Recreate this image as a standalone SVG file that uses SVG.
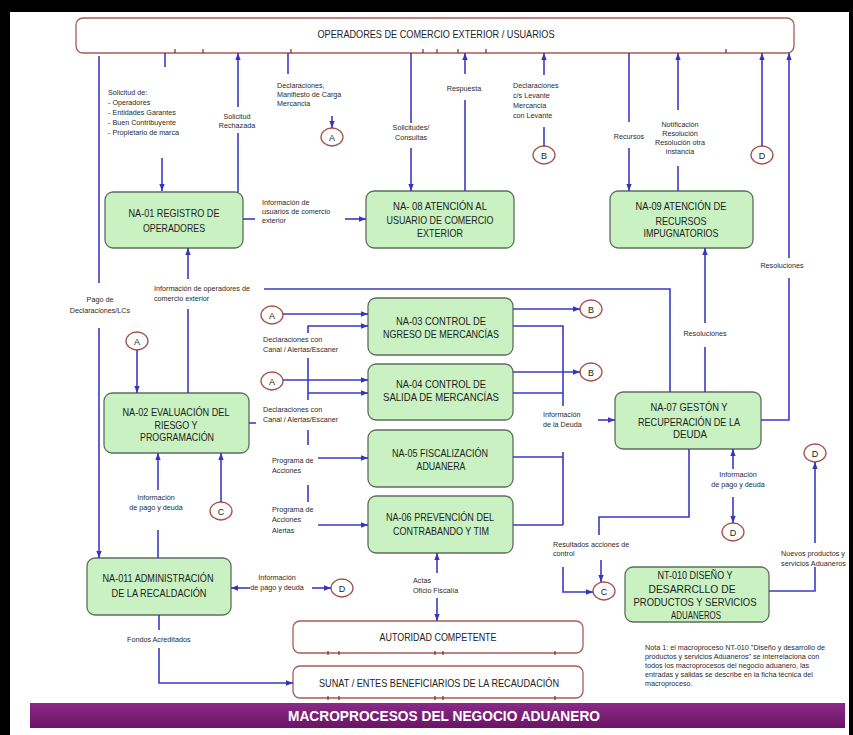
<svg xmlns="http://www.w3.org/2000/svg" width="853" height="735" viewBox="0 0 853 735">
<defs>
<marker id="ah" viewBox="0 0 10 10" refX="10" refY="5" markerWidth="7" markerHeight="7" orient="auto" markerUnits="userSpaceOnUse">
<path d="M0,1.2 L10,5 L0,8.8 z" fill="#3434c0"/>
</marker>
<linearGradient id="band" x1="0" y1="0" x2="0" y2="1">
<stop offset="0" stop-color="#8a2a88"/>
<stop offset="1" stop-color="#6a1466"/>
</linearGradient>
</defs>
<style>
.ln{fill:none;stroke:#3a3ac6;stroke-width:1.6}
.arr{marker-end:url(#ah)}
.nd rect{fill:#c9f1c1;stroke:#5e6e5e;stroke-width:1.3}
.nt{font-family:"Liberation Sans",Arial,sans-serif;font-size:11.5px;fill:#1e1e1e;text-anchor:middle}
.lb{font-family:"Liberation Sans",Arial,sans-serif;font-size:7.2px;fill:#2a2a2a}
.c{text-anchor:middle}
.ext rect{fill:#fff;stroke:#a65c58;stroke-width:1.3}
.et{font-family:"Liberation Sans",Arial,sans-serif;font-size:10.5px;fill:#222;text-anchor:middle}
.cir ellipse{fill:#fff;stroke:#a3544c;stroke-width:1.3}
.cir text{font-family:"Liberation Sans",Arial,sans-serif;font-size:9px;text-anchor:middle;fill:#222}
.tk{stroke:#7a2a22;stroke-width:1.2}
</style>
<rect width="853" height="735" fill="#fff"/>
<!-- frame -->
<rect x="0" y="0" width="853" height="12" fill="#000"/>
<rect x="0" y="0" width="10" height="735" fill="#000"/>
<rect x="849" y="0" width="4" height="735" fill="#000"/>

<!-- external entities -->
<g id="operadores" class="ext">
<rect x="76" y="18" width="718" height="35" rx="7"/>
<text class="et" x="436" y="38" textLength="237" lengthAdjust="spacingAndGlyphs">OPERADORES DE COMERCIO  EXTERIOR / USUARIOS</text>
</g>
<g id="autoridad" class="ext">
<rect x="293" y="621" width="290" height="32" rx="7"/>
<text class="et" x="438" y="641" textLength="117" lengthAdjust="spacingAndGlyphs">AUTORIDAD COMPETENTE</text>
</g>
<g id="sunat" class="ext">
<rect x="293" y="666" width="290" height="32" rx="7"/>
<text class="et" x="439" y="687" textLength="240" lengthAdjust="spacingAndGlyphs">SUNAT / ENTES BENEFICIARIOS DE LA RECAUDACIÓN</text>
</g>
<g id="ticks">
<path class="tk" d="M175,49V53M203,49V53M291,49V53M423,49V53M437,49V53M458,49V53M486,49V53M726,49V53"/>
<path class="tk" d="M328,651V655M339,651V655M435,651V655M443,651V655M555,651V655"/>
<path class="tk" d="M328,696V700M339,696V700M435,696V700M443,696V700M555,696V700"/>
</g>

<!-- process nodes -->
<g id="na01" class="nd"><rect x="105" y="192" width="138" height="56" rx="8"/>
<text class="nt" x="174" y="217" textLength="91" lengthAdjust="spacingAndGlyphs">NA-01 REGISTRO DE</text>
<text class="nt" x="174" y="232" textLength="62" lengthAdjust="spacingAndGlyphs">OPERADORES</text></g>
<g id="na08" class="nd"><rect x="366" y="191" width="148" height="57" rx="8"/>
<text class="nt" x="440" y="210" textLength="94" lengthAdjust="spacingAndGlyphs">NA- 08 ATENCIÓN AL</text>
<text class="nt" x="440" y="224" textLength="107" lengthAdjust="spacingAndGlyphs">USUARIO DE COMERCIO</text>
<text class="nt" x="440" y="237" textLength="46" lengthAdjust="spacingAndGlyphs">EXTERIOR</text></g>
<g id="na09" class="nd"><rect x="610" y="191" width="143" height="57" rx="8"/>
<text class="nt" x="681" y="210" textLength="91" lengthAdjust="spacingAndGlyphs">NA-09 ATENCIÓN DE</text>
<text class="nt" x="681" y="225" textLength="51" lengthAdjust="spacingAndGlyphs">RECURSOS</text>
<text class="nt" x="681" y="237" textLength="75" lengthAdjust="spacingAndGlyphs">IMPUGNATORIOS</text></g>
<g id="na03" class="nd"><rect x="368" y="298" width="145" height="57" rx="8"/>
<text class="nt" x="441" y="325" textLength="90" lengthAdjust="spacingAndGlyphs">NA-03 CONTROL DE</text>
<text class="nt" x="441" y="338" textLength="116" lengthAdjust="spacingAndGlyphs">NGRESO DE MERCANCÍAS</text></g>
<g id="na04" class="nd"><rect x="368" y="364" width="145" height="56" rx="8"/>
<text class="nt" x="441" y="388" textLength="90" lengthAdjust="spacingAndGlyphs">NA-04 CONTROL DE</text>
<text class="nt" x="441" y="401" textLength="116" lengthAdjust="spacingAndGlyphs">SALIDA DE MERCANCÍAS</text></g>
<g id="na05" class="nd"><rect x="368" y="430" width="145" height="57" rx="8"/>
<text class="nt" x="440" y="457" textLength="96" lengthAdjust="spacingAndGlyphs">NA-05 FISCALIZACIÓN</text>
<text class="nt" x="441" y="470" textLength="49" lengthAdjust="spacingAndGlyphs">ADUANERA</text></g>
<g id="na06" class="nd"><rect x="368" y="496" width="145" height="57" rx="8"/>
<text class="nt" x="440" y="521" textLength="108" lengthAdjust="spacingAndGlyphs">NA-06 PREVENCIÓN DEL</text>
<text class="nt" x="441" y="535" textLength="96" lengthAdjust="spacingAndGlyphs">CONTRABANDO Y TIM</text></g>
<g id="na07" class="nd"><rect x="615" y="392" width="146" height="57" rx="8"/>
<text class="nt" x="689" y="411" textLength="77" lengthAdjust="spacingAndGlyphs">NA-07 GESTÓN Y</text>
<text class="nt" x="689" y="426" textLength="102" lengthAdjust="spacingAndGlyphs">RECUPERACIÓN DE LA</text>
<text class="nt" x="690" y="438" textLength="34" lengthAdjust="spacingAndGlyphs">DEUDA</text></g>
<g id="na02" class="nd"><rect x="104" y="393" width="145" height="60" rx="8"/>
<text class="nt" x="176" y="416" textLength="107" lengthAdjust="spacingAndGlyphs">NA-02 EVALUACIÓN DEL</text>
<text class="nt" x="176" y="429" textLength="43" lengthAdjust="spacingAndGlyphs">RIESGO Y</text>
<text class="nt" x="177" y="441" textLength="74" lengthAdjust="spacingAndGlyphs">PROGRAMACIÓN</text></g>
<g id="na011" class="nd"><rect x="87" y="558" width="144" height="57" rx="8"/>
<text class="nt" x="158" y="582" textLength="111" lengthAdjust="spacingAndGlyphs">NA-011 ADMINISTRACIÓN</text>
<text class="nt" x="159" y="597" textLength="95" lengthAdjust="spacingAndGlyphs">DE LA RECALDACIÓN</text></g>
<g id="nt010" class="nd"><rect x="625" y="567" width="144" height="55" rx="8"/>
<text class="nt" x="695" y="579" textLength="75" lengthAdjust="spacingAndGlyphs">NT-010 DISEÑO Y</text>
<text class="nt" x="692" y="593" textLength="87" lengthAdjust="spacingAndGlyphs">DESARRCLLO DE</text>
<text class="nt" x="695" y="606" textLength="123" lengthAdjust="spacingAndGlyphs">PRODUCTOS Y SERVICIOS</text>
<text class="nt" x="696" y="619" textLength="50" lengthAdjust="spacingAndGlyphs">ADUANEROS</text></g>

<!-- off-page connectors -->
<g id="conA1" class="cir"><ellipse cx="332" cy="137" rx="11" ry="9"/><text x="332" y="140.5">A</text></g>
<g id="conB1" class="cir"><ellipse cx="544" cy="155" rx="11" ry="9"/><text x="544" y="158.5">B</text></g>
<g id="conD1" class="cir"><ellipse cx="762" cy="155" rx="11" ry="9"/><text x="762" y="158.5">D</text></g>
<g id="conA2" class="cir"><ellipse cx="137" cy="341" rx="11" ry="9"/><text x="137" y="344.5">A</text></g>
<g id="conA3" class="cir"><ellipse cx="272" cy="315" rx="11" ry="9"/><text x="272" y="318.5">A</text></g>
<g id="conA4" class="cir"><ellipse cx="272" cy="381" rx="11" ry="9"/><text x="272" y="384.5">A</text></g>
<g id="conB2" class="cir"><ellipse cx="591" cy="309" rx="11" ry="9"/><text x="591" y="312.5">B</text></g>
<g id="conB3" class="cir"><ellipse cx="591" cy="372" rx="11" ry="9"/><text x="591" y="375.5">B</text></g>
<g id="conC1" class="cir"><ellipse cx="221" cy="511" rx="11" ry="9"/><text x="221" y="514.5">C</text></g>
<g id="conD2" class="cir"><ellipse cx="342" cy="588" rx="11" ry="9"/><text x="342" y="591.5">D</text></g>
<g id="conC2" class="cir"><ellipse cx="604" cy="591" rx="11" ry="9"/><text x="604" y="594.5">C</text></g>
<g id="conD3" class="cir"><ellipse cx="733" cy="532" rx="11" ry="9"/><text x="733" y="535.5">D</text></g>
<g id="conD4" class="cir"><ellipse cx="815" cy="453" rx="11" ry="9"/><text x="815" y="456.5">D</text></g>

<!-- connectors -->
<g id="connectors">
<path class="ln" d="M165,53V67"/>
<path class="ln arr" d="M162,158V191"/>
<path class="ln" d="M238,192V133"/>
<path class="ln arr" d="M238,107V53"/>
<path class="ln" d="M288,53V74"/>
<path class="ln arr" d="M332,116V128"/>
<path class="ln" d="M411,53V123"/>
<path class="ln arr" d="M411,148V191"/>
<path class="ln" d="M465,191V100"/>
<path class="ln arr" d="M465,74V53"/>
<path class="ln" d="M544,146V127"/>
<path class="ln arr" d="M544,75V53"/>
<path class="ln" d="M629,53V122"/>
<path class="ln arr" d="M629,148V191"/>
<path class="ln" d="M678,191V166"/>
<path class="ln arr" d="M678,110V53"/>
<path class="ln arr" d="M762,146V53"/>
<path class="ln" d="M761,420H789V278"/>
<path class="ln arr" d="M789,258V53"/>
<path class="ln" d="M243,219H255"/>
<path class="ln arr" d="M345,219H366"/>
<path class="ln" d="M705,392V347"/>
<path class="ln arr" d="M705,323V248"/>
<path class="ln" d="M670,392V289H264"/>
<path class="ln" d="M188,393V309"/>
<path class="ln arr" d="M188,279V248"/>
<path class="ln arr" d="M137,350V393"/>
<path class="ln arr" d="M283,314H368"/>
<path class="ln arr" d="M308,333V326H368"/>
<path class="ln arr" d="M283,380H368"/>
<path class="ln arr" d="M308,393H368"/>
<path class="ln" d="M308,358V400M308,430V445M308,485V502"/>
<path class="ln" d="M249,423H256"/>
<path class="ln arr" d="M318,458H368"/>
<path class="ln arr" d="M318,525H368"/>
<path class="ln arr" d="M513,309H580"/>
<path class="ln arr" d="M513,372H580"/>
<path class="ln" d="M513,326H563V406"/>
<path class="ln" d="M513,393H563"/>
<path class="ln arr" d="M598,420H615"/>
<path class="ln" d="M513,457H563M513,525H563M563,452V525"/>
<path class="ln arr" d="M563,567V592H593"/>
<path class="ln" d="M689,449V517H599V535"/>
<path class="ln arr" d="M601,560V582"/>
<path class="ln arr" d="M733,469V449"/>
<path class="ln arr" d="M733,497V523"/>
<path class="ln" d="M769,591H815V567"/>
<path class="ln arr" d="M815,543V462"/>
<path class="ln" d="M158,558V530"/>
<path class="ln arr" d="M158,490V453"/>
<path class="ln arr" d="M221,502V453"/>
<path class="ln" d="M99,56V283"/>
<path class="ln arr" d="M99,328V558"/>
<path class="ln arr" d="M250,588H231"/>
<path class="ln arr" d="M312,588H331"/>
<path class="ln" d="M159,615V630"/>
<path class="ln arr" d="M159,648V683H293"/>
<path class="ln arr" d="M437,573V553"/>
<path class="ln arr" d="M437,598V621"/>
</g>

<!-- flow labels -->
<g id="labels">
<text class="lb" x="108" y="94.5">Solicitud de:</text>
<text class="lb" x="108" y="104.5">- Operadores</text>
<text class="lb" x="108" y="114.5">- Entidades Garantes</text>
<text class="lb" x="108" y="124.5">- Buen Contribuyente</text>
<text class="lb" x="108" y="134.5">- Propietario de marca</text>
<text class="lb c" x="237" y="119">Solicitud</text>
<text class="lb c" x="237" y="128">Rechazada</text>
<text class="lb" x="277" y="88">Declaraciones,</text>
<text class="lb" x="277" y="97">Manifiesto de Carga</text>
<text class="lb" x="277" y="106">Mercancia</text>
<text class="lb" x="262" y="205">Información de</text>
<text class="lb" x="262" y="214">usuarios de comercio</text>
<text class="lb" x="262" y="223">exterior</text>
<text class="lb c" x="411" y="130">Solicitudes/</text>
<text class="lb c" x="411" y="140">Consultas</text>
<text class="lb c" x="464" y="91">Respuesta</text>
<text class="lb" x="513" y="88">Declaraciones</text>
<text class="lb" x="513" y="98">c/s Levante</text>
<text class="lb" x="513" y="108">Mercancia</text>
<text class="lb" x="513" y="118">con Levante</text>
<text class="lb c" x="629" y="139">Recursos</text>
<text class="lb c" x="680" y="127">Notificación</text>
<text class="lb c" x="680" y="136">Resolución</text>
<text class="lb c" x="680" y="145">Resolución otra</text>
<text class="lb c" x="680" y="154">instancia</text>
<text class="lb c" x="782" y="268">Resoluciones</text>
<text class="lb c" x="705" y="336">Resoluciones</text>
<text class="lb" x="154" y="291">Información de operadores de</text>
<text class="lb" x="154" y="301">comercio exterior</text>
<text class="lb c" x="100" y="302">Pago de</text>
<text class="lb c" x="100" y="313">Declaraciones/LCs</text>
<text class="lb" x="263" y="342">Declaraciones con</text>
<text class="lb" x="263" y="352">Canal / Alertas/Escaner</text>
<text class="lb" x="263" y="412">Declaraciones con</text>
<text class="lb" x="263" y="422">Canal / Alertas/Escaner</text>
<text class="lb" x="272" y="463">Programa de</text>
<text class="lb" x="272" y="473">Acciones</text>
<text class="lb" x="272" y="512">Programa de</text>
<text class="lb" x="272" y="522">Acciones</text>
<text class="lb" x="272" y="533">Alertas</text>
<text class="lb c" x="156" y="500">Información</text>
<text class="lb c" x="156" y="510">de pago y deuda</text>
<text class="lb c" x="277" y="580">Información</text>
<text class="lb c" x="277" y="590">de pago y deuda</text>
<text class="lb" x="413" y="583">Actas</text>
<text class="lb" x="413" y="593">Oficio Fiscalía</text>
<text class="lb" x="127" y="642">Fondos Acreditados</text>
<text class="lb" x="543" y="417">Información</text>
<text class="lb" x="543" y="427">de la Deuda</text>
<text class="lb" x="553" y="547">Resultados acciones de</text>
<text class="lb" x="553" y="556">control</text>
<text class="lb c" x="738" y="477">Información</text>
<text class="lb c" x="738" y="487">de pago y deuda</text>
<text class="lb" x="781" y="556" textLength="64" lengthAdjust="spacingAndGlyphs">Nuevos productos y</text>
<text class="lb" x="781" y="566" textLength="65" lengthAdjust="spacingAndGlyphs">servicios Aduaneros</text>
</g>

<!-- note -->
<g id="nota" class="lb">
<text x="645" y="650">Nota 1: el macroproceso NT-010 "Diseño y desarrollo de</text>
<text x="645" y="659">productos y servicios  Aduaneros" se interrelaciona con</text>
<text x="645" y="668">todos los macroprocesos del negocio aduanero, las</text>
<text x="645" y="677">entradas y salidas se describe en la ficha técnica del</text>
<text x="645" y="686">macroproceso.</text>
</g>

<!-- title band -->
<g id="titulo">
<rect x="30" y="703" width="815" height="25" fill="url(#band)"/>
<text x="444" y="721" font-family="Liberation Sans, Arial, sans-serif" font-size="15" font-weight="bold" fill="#fff" text-anchor="middle" textLength="312" lengthAdjust="spacingAndGlyphs">MACROPROCESOS DEL NEGOCIO ADUANERO</text>
</g>
</svg>
